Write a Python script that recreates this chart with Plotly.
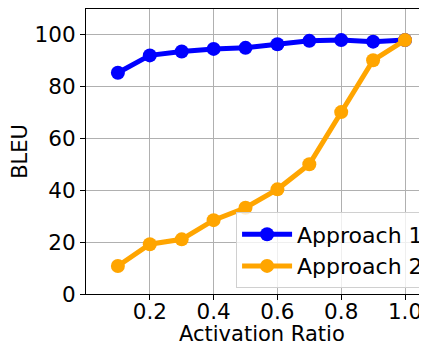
import plotly.graph_objects as go

ratios = [0.1, 0.2, 0.3, 0.4, 0.5, 0.6, 0.7, 0.8, 0.9, 1.0]
approach1 = [85.4, 92.1, 93.6, 94.6, 95.0, 96.4, 97.7, 98.0, 97.4, 98.0]
approach2 = [10.8, 19.2, 21.1, 28.5, 33.3, 40.4, 50.1, 70.2, 90.2, 98.0]
xticks = [0.2, 0.4, 0.6, 0.8, 1.0]
xticklabels = ["0.2", "0.4", "0.6", "0.8", "1.0"]
yticks = [0, 20, 40, 60, 80, 100]

font = "DejaVu Sans"
fig = go.Figure()
fig.add_trace(go.Scatter(x=ratios, y=approach1, mode="lines+markers", name="Approach 1",
                         line=dict(color="#0000ff", width=5), marker=dict(size=14, color="#0000ff")))
fig.add_trace(go.Scatter(x=ratios, y=approach2, mode="lines+markers", name="Approach 2",
                         line=dict(color="#ffa500", width=5), marker=dict(size=14, color="#ffa500")))

fig.update_layout(
    width=427, height=343,
    margin=dict(l=78, r=0, t=1, b=57, autoexpand=False),
    paper_bgcolor="white", plot_bgcolor="white",
    font=dict(family=font, size=21.5, color="black"),
    showlegend=True,
    legend=dict(x=0.43, y=0.286, xanchor="left", yanchor="top",
                bgcolor="rgba(255,255,255,0.8)", bordercolor="#d0d0d0", borderwidth=1,
                font=dict(size=22), itemwidth=50, tracegroupgap=0),
    annotations=[dict(text="Activation Ratio", xref="paper", yref="paper", x=0.503, y=0,
                      xanchor="center", yanchor="top", yshift=-26, showarrow=False,
                      font=dict(size=21))],
)
fig.update_xaxes(range=[0, 1.094], tickvals=xticks, ticktext=xticklabels,
                 showgrid=True, gridcolor="#b0b0b0", gridwidth=1,
                 showline=True, linecolor="black", linewidth=1.2, mirror=True,
                 ticks="outside", ticklen=5, tickcolor="black", automargin=False,
                 ticklabelstandoff=-7,
                 zeroline=False)
fig.update_yaxes(range=[0, 110], tickvals=yticks,
                 showgrid=True, gridcolor="#b0b0b0", gridwidth=1,
                 showline=True, linecolor="black", linewidth=1.2, automargin=False,
                 ticks="outside", ticklen=5, tickcolor="black",
                 title=dict(text="BLEU", font=dict(size=21), standoff=3),
                 zeroline=False)
fig.write_html("out.html")
